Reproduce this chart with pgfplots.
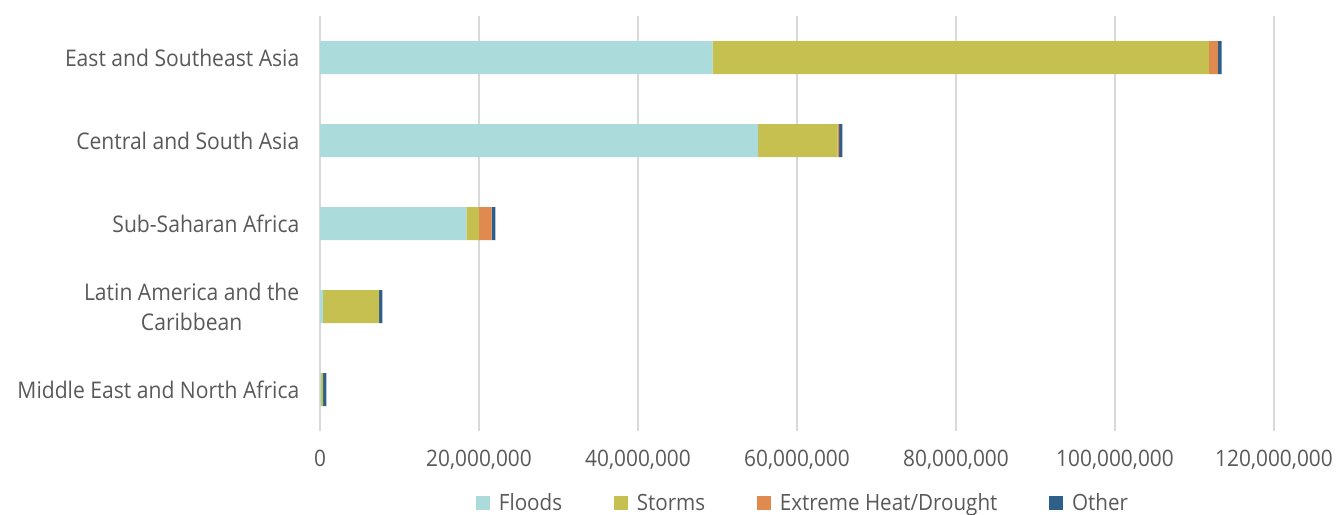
\documentclass[border=0pt]{standalone}
\usepackage{pgfplots}
\pgfplotsset{compat=1.18}
\usepackage{fontspec}
\setmainfont{Open Sans}[FakeStretch=0.92]

\definecolor{floodc}{HTML}{ABDBDB}
\definecolor{stormc}{HTML}{C5C04F}
\definecolor{heatc}{HTML}{E08A4F}
\definecolor{otherc}{HTML}{2E5F8A}
\definecolor{gridc}{HTML}{D9D9D9}
\definecolor{txtc}{HTML}{595959}

% Displacements by region, split by hazard type (persons)
% region index: 0 East and Southeast Asia ... 4 Middle East and North Africa
\begin{document}
\begin{tikzpicture}
\path[use as bounding box] (0,0) rectangle (1003.5pt,385.5pt);
\begin{axis}[
  at={(240pt,62.25pt)}, anchor=south west,
  width=715.5pt, height=311.25pt, scale only axis,
  xbar stacked, bar width=24.75pt,
  y dir=reverse,
  xmin=0, xmax=120000000,
  ymin=-0.5, ymax=4.5,
  scaled x ticks=false,
  axis line style={draw=none},
  xmajorgrids, grid style={gridc, line width=0.9pt},
  major tick length=0pt,
  xtick={0,20000000,40000000,60000000,80000000,100000000,120000000},
  xticklabels={0,{20,000,000},{40,000,000},{60,000,000},{80,000,000},{100,000,000},{120,000,000}},
  ytick={0,1,2,3,4},
  yticklabels={East and Southeast Asia,Central and South Asia,Sub-Saharan Africa,{Latin America and the\\Caribbean},Middle East and North Africa},
  yticklabel style={align=center, font=\fontsize{17.2pt}{22.5pt}\selectfont, text=txtc, xshift=-12pt},
  xticklabel style={font=\fontsize{17pt}{20pt}\selectfont, text=txtc, yshift=-11pt},
  legend columns=-1,
  legend style={at={(0.5068,-0.1735)}, anchor=center, draw=none, fill=none,
    font=\fontsize{16.8pt}{18pt}\selectfont, text=txtc,
    /tikz/every odd column/.append style={column sep=4.5pt},
    /tikz/every even column/.append style={column sep=37pt}},
  legend image code/.code={\fill[#1] (0pt,-5.25pt) rectangle (10.5pt,5.25pt);},
  every axis plot/.append style={draw=none},
]
\addplot[fill=floodc] coordinates {(49400000,0) (55100000,1) (18400000,2) (400000,3) (150000,4)};
\addplot[fill=stormc] coordinates {(62400000,0) (10000000,1) (1600000,2) (7000000,3) (200000,4)};
\addplot[fill=heatc] coordinates {(1150000,0) (200000,1) (1600000,2) (50000,3) (50000,4)};
\addplot[fill=otherc] coordinates {(450000,0) (400000,1) (450000,2) (400000,3) (400000,4)};
\legend{Floods,Storms,Extreme Heat/Drought,Other}
\end{axis}
\end{tikzpicture}
\end{document}
